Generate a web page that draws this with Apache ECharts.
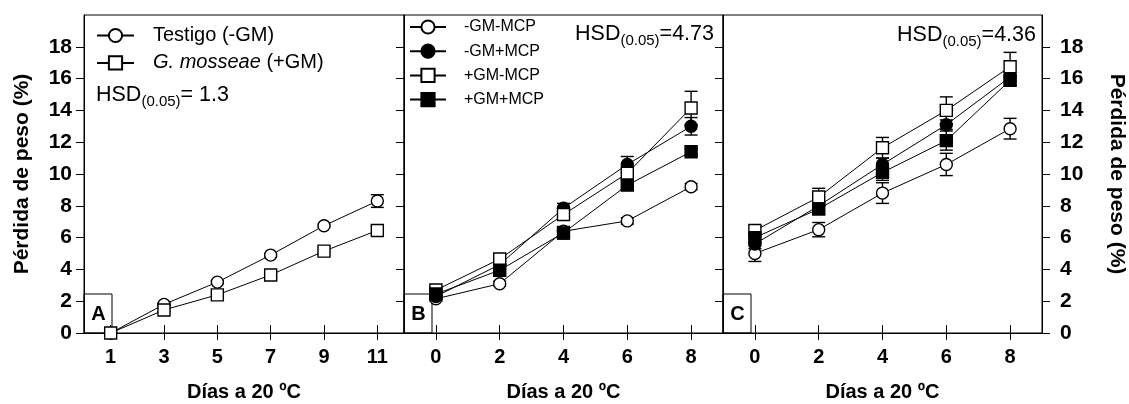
<!DOCTYPE html>
<html><head><meta charset="utf-8">
<script src="https://cdn.jsdelivr.net/npm/echarts@6/dist/echarts.min.js"></script>
<style>html,body{margin:0;padding:0;background:#fff}#c{width:1129px;height:404px}</style>
</head><body><div id="c"></div>
<script>
// ---------- data ----------
const daysA = [1, 3, 5, 7, 9, 11];
const daysBC = [0, 2, 4, 6, 8];
const xTicksA = [1, 3, 5, 7, 9, 11];
const xTicksBC = [0, 2, 4, 6, 8];
const yTicks = [0, 2, 4, 6, 8, 10, 12, 14, 16, 18];
const namesA = ['Testigo (-GM)', 'G. mosseae (+GM)'];
const namesBC = ['-GM-MCP', '-GM+MCP', '+GM-MCP', '+GM+MCP'];
const panelLetters = ['A', 'B', 'C'];
const hsdValues = ['= 1.3', '=4.73', '=4.36'];
const xTitle = 'Días a 20 ºC';
const yTitle = 'Pérdida de peso (%)';

// Panel A
const aTestigo = [0, 1.8, 3.2, 4.9, 6.75, 8.3];
const aTestigoErr = [0, 0.1, 0.1, 0.1, 0.1, 0.4];
const aMosseae = [0, 1.45, 2.4, 3.65, 5.15, 6.45];
const aMosseaeErr = [0, 0.1, 0.1, 0.1, 0.1, 0.3];

// Panel B
const bMinusGmMinusMcp = [2.15, 3.1, 6.4, 7.05, 9.2];
const bMinusGmMinusMcpErr = [0.15, 0.15, 0.2, 0.2, 0.2];
const bMinusGmPlusMcp = [2.3, 4.3, 7.85, 10.6, 13.0];
const bMinusGmPlusMcpErr = [0.2, 0.3, 0.3, 0.5, 0.55];
const bPlusGmMinusMcp = [2.7, 4.65, 7.45, 10.05, 14.15];
const bPlusGmMinusMcpErr = [0.2, 0.3, 0.3, 0.3, 1.05];
const bPlusGmPlusMcp = [2.45, 3.95, 6.3, 9.3, 11.4];
const bPlusGmPlusMcpErr = [0.2, 0.2, 0.4, 0.3, 0.2];

// Panel C
const cMinusGmMinusMcp = [5.0, 6.5, 8.8, 10.6, 12.85];
const cMinusGmMinusMcpErr = [0.5, 0.45, 0.65, 0.7, 0.65];
const cMinusGmPlusMcp = [5.6, 8.0, 10.6, 13.1, 16.1];
const cMinusGmPlusMcpErr = [0.3, 0.3, 0.4, 0.3, 0.3];
const cPlusGmMinusMcp = [6.45, 8.55, 11.65, 14.0, 16.75];
const cPlusGmMinusMcpErr = [0.3, 0.55, 0.65, 0.85, 0.9];
const cPlusGmPlusMcp = [6.0, 7.8, 10.1, 12.1, 15.9];
const cPlusGmPlusMcpErr = [0.3, 0.3, 0.5, 0.6, 0.3];

// ---------- styles ----------
const FONT = '"Liberation Sans", Arial, sans-serif';
const markerStyle = {
  'Testigo (-GM)': ['circle', '#fff'],
  'G. mosseae (+GM)': ['rect', '#fff'],
  '-GM-MCP': ['circle', '#fff'],
  '-GM+MCP': ['circle', '#000'],
  '+GM-MCP': ['rect', '#fff'],
  '+GM+MCP': ['rect', '#000']
};

function lineSeries(name, xs, ys, xi, yi, z) {
  const m = markerStyle[name];
  return {
    type: 'line', name, xAxisIndex: xi, yAxisIndex: yi,
    data: xs.map((x, i) => [x, ys[i]]),
    symbol: m[0], symbolSize: 12, showAllSymbol: true,
    lineStyle: {color: '#000', width: 1},
    itemStyle: {color: m[1], borderColor: '#000', borderWidth: 1.4, opacity: 1},
    emphasis: {disabled: true},
    z: 10 + z, animation: false, clip: false
  };
}
function errSeries(xs, ys, es, xi, yi) {
  return {
    type: 'custom', xAxisIndex: xi, yAxisIndex: yi, z: 5, silent: true,
    data: xs.map((x, i) => [x, ys[i], es[i]]),
    encode: {x: 0, y: 1},
    clip: false,
    renderItem: function (params, api) {
      const x = api.value(0), y = api.value(1), e = api.value(2);
      const t = api.coord([x, y + e]);
      const b = api.coord([x, y - e]);
      const h = 6.5;
      const st = {stroke: '#000', lineWidth: 1.4};
      return {type: 'group', children: [
        {type: 'line', shape: {x1: t[0], y1: t[1], x2: b[0], y2: b[1]}, style: st},
        {type: 'line', shape: {x1: t[0] - h, y1: t[1], x2: t[0] + h, y2: t[1]}, style: st},
        {type: 'line', shape: {x1: b[0] - h, y1: b[1], x2: b[0] + h, y2: b[1]}, style: st}
      ]};
    }
  };
}

const gridTop = 15, gridH = 318;
const grids = [
  {left: 84, top: gridTop, width: 320, height: gridH},
  {left: 404, top: gridTop, width: 319, height: gridH},
  {left: 723, top: gridTop, width: 319, height: gridH}
].map(g => Object.assign(g, {show: true, borderColor: '#000', borderWidth: 1,
  backgroundColor: 'transparent', containLabel: false, outerBoundsMode: 'none'}));

function xAxisPair(gi, min, max, ticks) {
  const main = {
    type: 'value', gridIndex: gi, min, max, position: 'bottom',
    name: xTitle, nameLocation: 'middle', nameGap: 49,
    nameTextStyle: {fontFamily: FONT, fontSize: 20, fontWeight: 'bold', color: '#000'},
    axisLine: {show: true, onZero: false, lineStyle: {color: '#000', width: 1}},
    axisTick: {show: true, inside: false, length: 7, customValues: ticks, lineStyle: {color: '#000', width: 1}},
    axisLabel: {show: true, customValues: ticks, margin: 14, fontFamily: FONT, fontSize: 20, fontWeight: 'bold', color: '#000'},
    splitLine: {show: false}
  };
  const inner = {
    type: 'value', gridIndex: gi, min, max, position: 'bottom', offset: 0,
    axisLine: {show: false, onZero: false},
    axisTick: {show: true, inside: true, length: 8, customValues: ticks, lineStyle: {color: '#000', width: 1}},
    axisLabel: {show: false},
    splitLine: {show: false}
  };
  return [main, inner];
}

const xAxes = [].concat(
  xAxisPair(0, 0, 12, xTicksA),
  xAxisPair(1, -1, 9, xTicksBC),
  xAxisPair(2, -1, 9, xTicksBC)
);

function yAxisDef(gi, pos, showLabels, name) {
  const d = {
    type: 'value', gridIndex: gi, min: 0, max: 20, position: pos,
    axisLine: {show: true, onZero: false, lineStyle: {color: '#000', width: 1}},
    axisTick: {show: true, inside: false, length: 8, customValues: yTicks, lineStyle: {color: '#000', width: 1}},
    axisLabel: {show: showLabels, customValues: yTicks, margin: pos === 'left' ? 12 : 18,
      fontFamily: FONT, fontSize: 21, fontWeight: 'bold', color: '#000'},
    splitLine: {show: false}
  };
  if (name) {
    Object.assign(d, {
      name, nameLocation: 'middle', nameGap: pos === 'left' ? 51 : 64,
      nameRotate: pos === 'left' ? 90 : -90,
      nameTextStyle: {fontFamily: FONT, fontSize: 21, fontWeight: 'bold', color: '#000'}
    });
  }
  return d;
}
const yAxes = [
  yAxisDef(0, 'left', true, yTitle),
  yAxisDef(1, 'left', false, null),
  yAxisDef(2, 'left', false, null),
  yAxisDef(2, 'right', true, yTitle)
];

const seriesList = [
  errSeries(daysA, aTestigo, aTestigoErr, 0, 0),
  errSeries(daysA, aMosseae, aMosseaeErr, 0, 0),
  lineSeries(namesA[0], daysA, aTestigo, 0, 0, 0),
  lineSeries(namesA[1], daysA, aMosseae, 0, 0, 1),

  errSeries(daysBC, bMinusGmMinusMcp, bMinusGmMinusMcpErr, 2, 1),
  errSeries(daysBC, bMinusGmPlusMcp, bMinusGmPlusMcpErr, 2, 1),
  errSeries(daysBC, bPlusGmMinusMcp, bPlusGmMinusMcpErr, 2, 1),
  errSeries(daysBC, bPlusGmPlusMcp, bPlusGmPlusMcpErr, 2, 1),
  lineSeries(namesBC[0], daysBC, bMinusGmMinusMcp, 2, 1, 0),
  lineSeries(namesBC[1], daysBC, bMinusGmPlusMcp, 2, 1, 1),
  lineSeries(namesBC[2], daysBC, bPlusGmMinusMcp, 2, 1, 2),
  lineSeries(namesBC[3], daysBC, bPlusGmPlusMcp, 2, 1, 3),

  errSeries(daysBC, cMinusGmMinusMcp, cMinusGmMinusMcpErr, 4, 2),
  errSeries(daysBC, cMinusGmPlusMcp, cMinusGmPlusMcpErr, 4, 2),
  errSeries(daysBC, cPlusGmMinusMcp, cPlusGmMinusMcpErr, 4, 2),
  errSeries(daysBC, cPlusGmPlusMcp, cPlusGmPlusMcpErr, 4, 2),
  lineSeries(namesBC[0], daysBC, cMinusGmMinusMcp, 4, 2, 0),
  lineSeries(namesBC[1], daysBC, cMinusGmPlusMcp, 4, 2, 1),
  lineSeries(namesBC[2], daysBC, cPlusGmMinusMcp, 4, 2, 2),
  lineSeries(namesBC[3], daysBC, cPlusGmPlusMcp, 4, 2, 3)
];

const legends = [
  {
    data: namesA, orient: 'vertical', left: 96, top: 25.5, itemGap: 7.4, padding: 0,
    itemWidth: 37, itemHeight: 16.5, selectedMode: false,
    formatter: n => n === namesA[1] ? '{i|G. mosseae}{u| (+GM)}' : '{t|' + n + '}',
    textStyle: {fontFamily: FONT, fontSize: 20, color: '#000', lineHeight: 20,
      rich: {t: {fontFamily: FONT, fontSize: 20, color: '#000', lineHeight: 20, padding: [0, 0, 0, 14]},
             u: {fontFamily: FONT, fontSize: 20, color: '#000', lineHeight: 20},
             i: {fontFamily: FONT, fontSize: 20, fontStyle: 'italic', color: '#000', lineHeight: 20, padding: [0, 0, 0, 14]}}},
    z: 20
  },
  {
    data: namesBC, orient: 'vertical', left: 409, top: 18.5, itemGap: 7.2, padding: 0,
    itemWidth: 36, itemHeight: 16.5, selectedMode: false,
    formatter: n => '{t|' + n + '}',
    textStyle: {fontFamily: FONT, fontSize: 16, color: '#000', lineHeight: 17,
      rich: {t: {fontFamily: FONT, fontSize: 16, color: '#000', lineHeight: 17, padding: [0, 0, 0, 13]}}},
    z: 20
  }
];

function hsdText(x, y, align, val) {
  return {
    type: 'text', x, y, z: 30,
    style: {
      text: '{a|HSD}{s|(0.05)}{a|' + val + '}',
      align, verticalAlign: 'top',
      rich: {
        a: {fontFamily: FONT, fontSize: 21.5, fill: '#000', lineHeight: 28},
        s: {fontFamily: FONT, fontSize: 15, fill: '#000', lineHeight: 10, verticalAlign: 'bottom'}
      }
    }
  };
}
const boxLefts = [84, 404, 723];
const graphics = [];
boxLefts.forEach((bx, i) => {
  graphics.push({type: 'rect', z: 1, shape: {x: bx, y: 294, width: 28, height: 39},
    style: {fill: 'none', stroke: '#000', lineWidth: 1}});
  graphics.push({type: 'text', z: 1, x: bx + 14.5, y: 314,
    style: {text: panelLetters[i], fontFamily: FONT, fontSize: 20, fontWeight: 'bold', fill: '#000', align: 'center', verticalAlign: 'middle'}});
});
graphics.push(hsdText(96, 81, 'left', hsdValues[0]));
graphics.push(hsdText(714, 20, 'right', hsdValues[1]));
graphics.push(hsdText(1036, 21, 'right', hsdValues[2]));

const chart = echarts.init(document.getElementById('c'), null, {renderer: 'canvas'});
chart.setOption({
  animation: false,
  backgroundColor: '#fff',
  grid: grids,
  xAxis: xAxes,
  yAxis: yAxes,
  legend: legends,
  graphic: graphics,
  series: seriesList
});
</script></body></html>
